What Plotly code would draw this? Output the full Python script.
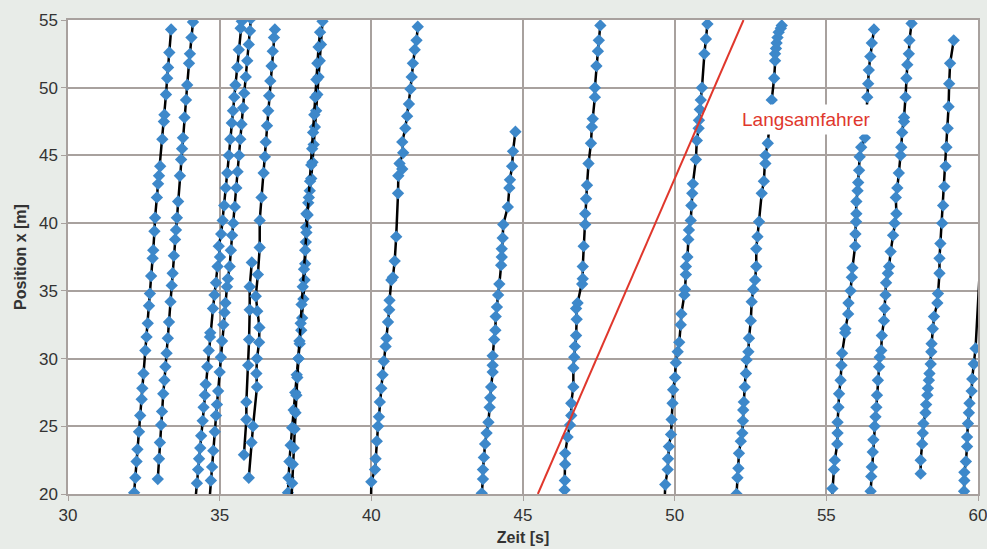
import plotly.graph_objects as go

# ---- data: vehicle trajectories (time [s], position [m]) ----
t_A = [32.18,32.22,32.26,32.29,32.34,32.38,32.43,32.45,32.49,32.55,32.59,32.63,32.67,32.70,32.74,32.79,32.81,32.85,32.87,32.93,32.97,33.00,33.04,33.11,33.16,33.18,33.23,33.27,33.30,33.34,33.40]
x_A = [20.1,21.2,22.4,23.3,24.6,25.8,27.0,27.8,28.9,30.6,31.6,32.6,33.9,34.8,36.1,37.4,38.0,39.4,40.4,41.9,42.9,43.5,44.2,46.2,47.5,48.0,49.5,50.7,51.5,52.6,54.3]

t_B = [32.96,33.00,33.03,33.07,33.10,33.14,33.18,33.21,33.25,33.29,33.33,33.38,33.42,33.45,33.49,33.53,33.56,33.59,33.63,33.69,33.73,33.76,33.79,33.84,33.89,33.93,33.99,34.02,34.07,34.12]
x_B = [21.1,22.6,23.8,25.1,26.1,27.4,28.4,29.4,30.4,31.5,32.7,34.2,35.4,36.3,37.6,38.8,39.5,40.4,41.6,43.5,44.7,45.5,46.3,47.8,49.1,50.2,51.8,52.5,53.7,54.85]

t_C = [34.19,34.25,34.29,34.32,34.36,34.39,34.44,34.47,34.51,34.54,34.59,34.64,34.68,34.69,34.78,34.83,34.88,34.93,35.01,34.97,35.05,35.10,35.15,35.20,35.25,35.30,35.35,35.40,35.44,35.48,35.52,35.58,35.63,35.69,35.73]
x_C = [19.3,20.8,21.8,22.6,23.4,24.3,25.4,26.4,27.3,28.1,29.4,30.6,31.6,31.9,33.7,34.7,35.6,36.8,37.5,38.3,39.2,40.2,41.3,42.6,43.7,45.0,46.2,47.4,48.3,49.3,50.2,51.5,52.8,54.4,54.9]

t_D = [34.66,34.71,34.75,34.79,34.84,34.88,34.91,34.95,35.00,35.04,35.08,35.12,35.16,35.19,35.24,35.27,35.33,35.37,35.41,35.45,35.50,35.55,35.59,35.64,35.68,35.72,35.77,35.81,35.86,35.91,35.96,36.00,36.03]
x_D = [19.4,21.0,22.0,23.2,24.6,25.8,26.6,27.6,29.0,30.1,31.3,32.5,33.4,34.1,35.3,35.9,36.8,38.0,39.1,40.0,41.2,42.6,43.8,45.0,46.2,47.3,48.5,49.6,50.8,52.0,53.2,54.2,55.1]

t_E = [35.80,35.88,35.88,35.94,35.97,35.99,35.99,36.06]
x_E = [22.9,25.5,26.8,29.5,31.4,33.6,35.3,37.1]

t_F = [35.96,36.05,36.10,36.23,36.21,36.23,36.30,36.31,36.24,36.19,36.26,36.32,36.32,36.38,36.45,36.49,36.52,36.56,36.60,36.63,36.67,36.71,36.75,36.79,36.82]
x_F = [21.2,23.8,25.0,27.9,28.9,30.0,31.2,32.3,33.5,34.6,36.2,38.2,40.2,41.9,43.7,44.9,46.0,47.2,48.3,49.4,50.5,51.6,52.7,53.7,54.3]

t_G = [37.25,37.27,37.30,37.34,37.39,37.44,37.49,37.54,37.60,37.64,37.69,37.72,37.76,37.80,37.82,37.84,37.85,37.86,37.92,37.97,38.02,38.06,38.10,38.14,38.18,38.22,38.26,38.30,38.34,38.39]
x_G = [20.1,21.2,22.4,23.6,24.9,26.2,27.5,28.8,30.0,31.1,32.1,33.0,34.4,35.8,37.0,38.6,39.7,40.7,41.5,42.4,43.3,44.5,45.8,47.1,48.3,49.5,50.8,52.0,53.2,54.9]

t_H = [37.36,37.39,37.41,37.44,37.47,37.50,37.53,37.56,37.60,37.63,37.67,37.70,37.74,37.78,37.82,37.86,37.90,37.94,37.98,38.02,38.05,38.08,38.12,38.15,38.19,38.22,38.26,38.31]
x_H = [19.3,20.8,22.2,23.4,24.8,26.0,27.3,28.6,30.0,31.3,32.6,34.0,35.3,36.6,38.0,39.3,40.6,41.9,43.1,44.3,45.5,46.7,48.0,49.3,50.6,51.8,53.0,54.1]

t_I = [39.99,40.00,40.12,40.14,40.18,40.22,40.25,40.28,40.33,40.37,40.41,40.47,40.50,40.55,40.59,40.60,40.66,40.71,40.77,40.82,40.88,40.89,41.02,40.93,41.05,41.02,41.12,41.18,41.24,41.29,41.33,41.37,41.43,41.49,41.53]
x_I = [19.5,20.9,21.8,22.6,23.9,25.0,25.7,26.8,27.8,28.8,29.8,30.9,31.5,32.7,33.6,34.3,35.8,36.0,37.2,39.0,42.2,43.5,44.0,44.4,45.2,46.0,47.0,47.9,48.8,49.9,50.8,51.8,52.8,53.5,54.5]

t_J = [43.64,43.68,43.68,43.71,43.75,43.80,43.86,43.90,43.92,43.95,44.00,44.00,44.00,44.05,44.09,44.10,44.14,44.18,44.22,44.28,44.30,44.30,44.33,44.35,44.50,44.55,44.57,44.64,44.67,44.75]
x_J = [20.05,21.1,21.8,22.7,23.7,24.5,25.3,26.4,27.1,27.9,29.0,29.5,30.2,31.4,32.1,33.1,33.8,34.7,35.5,36.9,37.5,38.1,38.9,39.9,41.2,42.6,43.2,44.2,45.3,46.75]

t_K = [46.37,46.38,46.39,46.39,46.47,46.55,46.59,46.59,46.66,46.66,46.69,46.71,46.75,46.77,46.75,46.80,46.95,46.97,46.97,47.00,47.05,47.05,47.08,47.11,47.16,47.24,47.27,47.30,47.37,47.37,47.42,47.47,47.50,47.55]
x_K = [20.3,21.0,22.2,23.0,24.2,25.1,25.8,26.7,27.9,29.3,30.1,30.9,31.7,32.9,33.7,34.1,35.5,35.9,36.8,38.3,39.9,40.7,41.8,42.8,44.4,45.9,47.1,47.7,49.3,50.0,51.6,52.7,53.5,54.6]

t_L = [49.67,49.69,49.77,49.78,49.81,49.88,49.90,49.93,49.95,50.01,50.04,50.10,50.15,50.20,50.22,50.32,50.34,50.37,50.37,50.42,50.45,50.47,50.53,50.55,50.58,50.60,50.70,50.73,50.79,50.80,50.83,50.86,50.90,50.98,51.03,51.08]
x_L = [19.5,20.7,21.8,22.6,23.5,24.4,25.5,26.7,27.7,28.6,29.7,30.5,31.2,32.5,33.3,34.7,35.1,36.2,36.8,37.5,38.8,39.5,40.2,41.3,42.2,42.9,44.7,46.1,47.0,47.6,48.4,49.1,50.0,52.5,53.6,54.7]

t_M = [52.04,52.07,52.10,52.12,52.18,52.23,52.25,52.26,52.28,52.31,52.35,52.37,52.43,52.45,52.51,52.54,52.59,52.65,52.69,52.69,52.73,52.78,52.87,52.94,52.99,52.99,53.07,53.11,53.15,53.20,53.28,53.31,53.31,53.34,53.36,53.39,53.43,53.50,53.53]
x_M = [20.0,21.2,21.9,23.0,23.9,24.5,25.4,26.2,26.8,27.9,28.9,29.9,30.5,31.5,32.8,34.2,35.1,35.8,36.8,38.1,39.0,40.1,42.2,43.1,44.4,45.0,45.9,47.0,48.2,49.1,50.7,52.0,52.5,52.9,53.3,53.7,54.1,54.4,54.6]

t_N = [55.18,55.20,55.25,55.28,55.36,55.37,55.37,55.40,55.42,55.47,55.50,55.52,55.62,55.63,55.72,55.73,55.80,55.84,55.86,55.95,55.96,55.98,55.99,55.99,56.03,56.05,56.08,56.10,56.15,56.27,56.31,56.35,56.38,56.40,56.45,56.50,56.57]
x_N = [19.5,20.4,21.8,22.5,23.7,24.5,25.3,26.4,27.4,28.4,29.5,30.4,31.9,32.2,33.3,34.1,35.0,36.0,36.7,38.3,39.2,40.1,40.7,41.6,42.4,43.0,43.9,44.9,45.6,46.3,47.5,49.3,50.3,51.3,52.3,53.3,54.3]

t_O = [56.44,56.46,56.48,56.50,56.53,56.55,56.59,56.62,56.65,56.67,56.70,56.74,56.76,56.81,56.83,56.90,56.92,56.95,56.97,57.03,57.07,57.12,57.20,57.25,57.31,57.29,57.34,57.39,57.45,57.47,57.50,57.56,57.56,57.61,57.64,57.67,57.72,57.74,57.81]
x_O = [19.5,20.2,21.3,22.0,23.1,24.0,25.0,25.7,26.4,27.3,28.4,29.4,30.1,30.6,31.7,32.8,33.7,34.7,35.6,36.3,36.8,37.9,39.1,40.0,40.7,41.9,42.6,43.7,45.0,45.6,46.7,47.5,47.8,49.3,50.7,51.7,52.5,53.5,54.75]

t_P = [58.11,58.11,58.16,58.18,58.20,58.27,58.29,58.33,58.35,58.38,58.40,58.44,58.46,58.47,58.51,58.55,58.66,58.68,58.73,58.73,58.76,58.82,58.85,58.89,58.93,58.96,59.00,59.03,59.05,59.08,59.20]
x_P = [21.5,22.5,23.7,24.5,25.2,26.0,26.6,27.3,27.8,28.4,28.9,29.6,30.5,31.1,32.2,33.1,34.1,34.8,36.3,37.4,38.5,40.0,41.3,42.7,44.2,45.6,47.0,48.6,50.3,51.8,53.5]

t_Q = [59.54,59.55,59.55,59.60,59.64,59.64,59.67,59.70,59.72,59.79,59.81,59.86,59.92,60.30]
x_Q = [20.2,21.0,21.6,22.4,23.5,24.2,25.2,26.0,26.7,27.6,28.5,29.6,30.75,46.5]

trajectories = [(t_A, x_A), (t_B, x_B), (t_C, x_C), (t_D, x_D), (t_E, x_E), (t_F, x_F),
                (t_G, x_G), (t_H, x_H), (t_I, x_I), (t_J, x_J), (t_K, x_K), (t_L, x_L),
                (t_M, x_M), (t_N, x_N), (t_O, x_O), (t_P, x_P), (t_Q, x_Q)]

# slow vehicle (Langsamfahrer)
t_slow = [45.49, 52.27]
x_slow = [20.0, 55.0]

x_ticks = [30, 35, 40, 45, 50, 55, 60]
y_ticks = [20, 25, 30, 35, 40, 45, 50, 55]

FONT = "Liberation Sans, Arial, sans-serif"
GRID = "#a8a19e"
PAPER = "#e8ece8"

fig = go.Figure()
for t, x in trajectories:
    fig.add_trace(go.Scatter(
        x=t, y=x, mode="lines+markers",
        line=dict(color="black", width=2.5),
        marker=dict(symbol="diamond", size=9.5, color="#3d88ca"),
        showlegend=False, cliponaxis=True))

fig.add_trace(go.Scatter(x=t_slow, y=x_slow, mode="lines",
                         line=dict(color="#e0372c", width=2), showlegend=False))

fig.add_annotation(x=54.32, y=47.67, xref="x", yref="y", text="Langsamfahrer",
                   showarrow=False, font=dict(family=FONT, size=19, color="#e0372c"),
                   bgcolor="white", borderpad=4)

fig.update_layout(
    width=987, height=549,
    margin=dict(l=68, r=9, t=20, b=55),
    paper_bgcolor=PAPER, plot_bgcolor="white",
    font=dict(family=FONT, size=17, color="#333333"),
)
fig.update_xaxes(range=[30, 60], tickvals=x_ticks, showgrid=True, gridcolor=GRID, gridwidth=1.5,
                 showline=True, linecolor=GRID, linewidth=1.5, mirror=True, automargin=False,
                 ticks="outside", ticklen=5, tickcolor=GRID, zeroline=False,
                 ticklabeloverflow="allow",
                 title=dict(text="<b>Zeit [s]</b>", font=dict(size=16), standoff=8))
fig.update_yaxes(range=[20, 55], tickvals=y_ticks, showgrid=True, gridcolor=GRID, gridwidth=1.5,
                 showline=True, linecolor=GRID, linewidth=1.5, mirror=True, automargin=False,
                 ticks="outside", ticklen=5, tickcolor=GRID, zeroline=False,
                 title=dict(text="<b>Position x [m]</b>", font=dict(size=16), standoff=8))

fig.write_html("out.html", config={"displayModeBar": False},
               post_script="document.body.style.margin='0';document.body.style.background='%s';" % PAPER)
